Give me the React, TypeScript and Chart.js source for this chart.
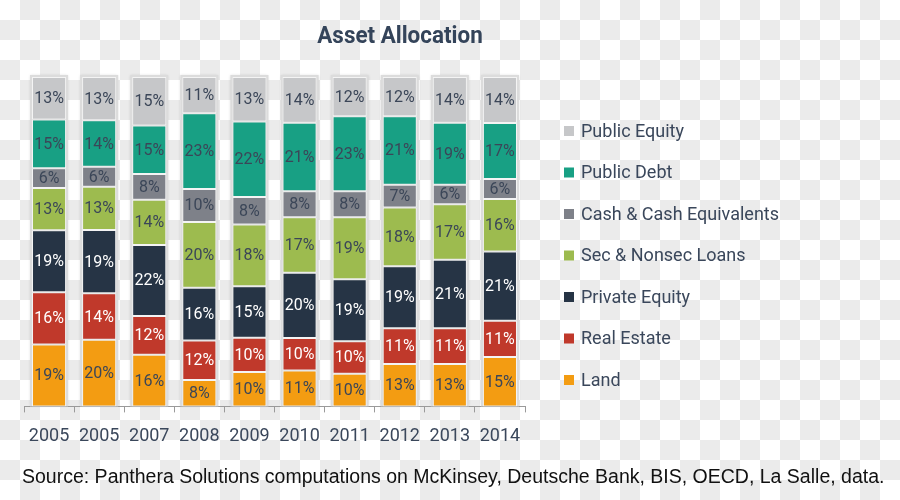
import React, { useEffect, useRef } from "react";
import { Chart, registerables } from "chart.js";

Chart.register(...registerables);

const years = ["2005", "2005", "2007", "2008", "2009", "2010", "2011", "2012", "2013", "2014"];
const land = [19, 20, 16, 8, 10, 11, 10, 13, 13, 15];
const realEstate = [16, 14, 12, 12, 10, 10, 10, 11, 11, 11];
const privateEquity = [19, 19, 22, 16, 15, 20, 19, 19, 21, 21];
const secLoans = [13, 13, 14, 20, 18, 17, 19, 18, 17, 16];
const cash = [6, 6, 8, 10, 8, 8, 8, 7, 6, 6];
const publicDebt = [15, 14, 15, 23, 22, 21, 23, 21, 19, 17];
const publicEquity = [13, 13, 15, 11, 13, 14, 12, 12, 14, 14];

const seriesNames = [
  "Land",
  "Real Estate",
  "Private Equity",
  "Sec & Nonsec Loans",
  "Cash & Cash Equivalents",
  "Public Debt",
  "Public Equity",
];
const seriesValues = [land, realEstate, privateEquity, secLoans, cash, publicDebt, publicEquity];
const seriesColors = ["#f39c12", "#c0392b", "#263445", "#9dbb4f", "#7e8189", "#18a084", "#c6c7c9"];
const labelColors = ["#3b4658", "#ffffff", "#ffffff", "#3b4658", "#3b4658", "#3b4658", "#3b4658"];

const titleText = "Asset Allocation";
const sourceText = "Source: Panthera Solutions computations on McKinsey, Deutsche Bank, BIS, OECD, La Salle, data.";

const TEXT = "#3a475b";

export default function App() {
  const ref = useRef<HTMLCanvasElement | null>(null);

  useEffect(() => {
    document.body.style.margin = "0";
    const totals = years.map((_, i) => seriesValues.reduce((s, arr) => s + arr[i], 0));
    const datasets = seriesValues.map((vals, di) => ({
      label: seriesNames[di],
      data: vals.map((v, i) => (v / totals[i]) * 100),
      raw: vals,
      backgroundColor: seriesColors[di],
      borderColor: "#f4f4f4",
      borderWidth: 1,
      borderSkipped: false,
      barPercentage: 0.68,
      categoryPercentage: 1,
    }));

    const backdrop = {
      id: "backdrop",
      beforeDatasetsDraw(chart: any) {
        const ctx = chart.ctx;
        const meta = chart.getDatasetMeta(0);
        const top = chart.scales.y.getPixelForValue(100);
        const bottom = chart.chartArea.bottom;
        ctx.save();
        meta.data.forEach((el: any) => {
          const { x, width } = el.getProps(["x", "width"], true);
          ctx.shadowColor = "rgba(0,0,0,0.15)";
          ctx.shadowBlur = 3;
          ctx.fillStyle = "#dcdcdc";
          ctx.fillRect(x - width / 2 - 2, top - 2, width + 4, bottom - top + 2);
        });
        ctx.restore();
      },
    };

    const valueLabels = {
      id: "valueLabels",
      afterDatasetsDraw(chart: any) {
        const ctx = chart.ctx;
        ctx.save();
        ctx.font = "16px Roboto";
        ctx.textAlign = "center";
        ctx.textBaseline = "middle";
        chart.data.datasets.forEach((ds: any, di: number) => {
          const meta = chart.getDatasetMeta(di);
          meta.data.forEach((el: any, i: number) => {
            const { x, y, base } = el.getProps(["x", "y", "base"], true);
            ctx.fillStyle = labelColors[di];
            ctx.fillText(ds.raw[i] + "%", x, (y + base) / 2 + 1);
          });
        });
        ctx.restore();
      },
    };

    const extras = {
      id: "extras",
      afterDraw(chart: any) {
        const ctx = chart.ctx;
        ctx.save();
        // title
        ctx.fillStyle = "#34445a";
        ctx.font = "bold 23px Roboto";
        ctx.textAlign = "center";
        ctx.textBaseline = "alphabetic";
        ctx.save();
        ctx.translate(400, 43);
        ctx.scale(0.975, 1);
        ctx.fillText(titleText, 0, 0);
        ctx.restore();
        // legend
        const n = chart.data.datasets.length;
        for (let k = 0; k < n; k++) {
          const di = n - 1 - k;
          const cy = 131 + k * 41.5;
          ctx.fillStyle = seriesColors[di];
          ctx.fillRect(564, cy - 5, 10, 10);
          ctx.fillStyle = TEXT;
          ctx.font = "18px Roboto";
          ctx.textAlign = "left";
          ctx.textBaseline = "middle";
          ctx.fillText(chart.data.datasets[di].label, 581, cy + 1);
        }
        // source
        ctx.fillStyle = "#111111";
        ctx.font = "19.5px 'Liberation Sans', Arial, sans-serif";
        ctx.textAlign = "left";
        ctx.textBaseline = "alphabetic";
        ctx.fillText(sourceText, 22, 483);
        ctx.restore();
      },
    };

    const chart = new Chart(ref.current as HTMLCanvasElement, {
      type: "bar",
      data: { labels: years, datasets: datasets as any },
      options: {
        animation: false,
        responsive: false,
        layout: { padding: { left: 24, right: 375, top: 77, bottom: 40 } },
        plugins: { legend: { display: false }, tooltip: { enabled: false }, title: { display: false } },
        scales: {
          x: {
            stacked: true,
            grid: { drawOnChartArea: false, drawTicks: true, tickLength: 6, color: "#9a9a9a", offset: true },
            border: { display: true, color: "#9a9a9a", width: 1 },
            ticks: { color: TEXT, font: { family: "Roboto", size: 18 }, padding: 13 },
          },
          y: { stacked: true, display: false, min: 0, max: 100 },
        },
      },
      plugins: [backdrop, valueLabels, extras],
    });
    return () => chart.destroy();
  }, []);

  return (
    <div
      style={{
        position: "fixed",
        left: 0,
        top: 0,
        width: 900,
        height: 500,
        backgroundColor: "#ffffff",
        backgroundImage:
          "conic-gradient(#ebebeb 0 25%, #ffffff 0 50%, #ebebeb 0 75%, #ffffff 0)",
        backgroundSize: "40px 40px",
        backgroundPosition: "0 0",
      }}
    >
      <canvas ref={ref} width={900} height={500} style={{ width: 900, height: 500, display: "block" }} />
    </div>
  );
}
